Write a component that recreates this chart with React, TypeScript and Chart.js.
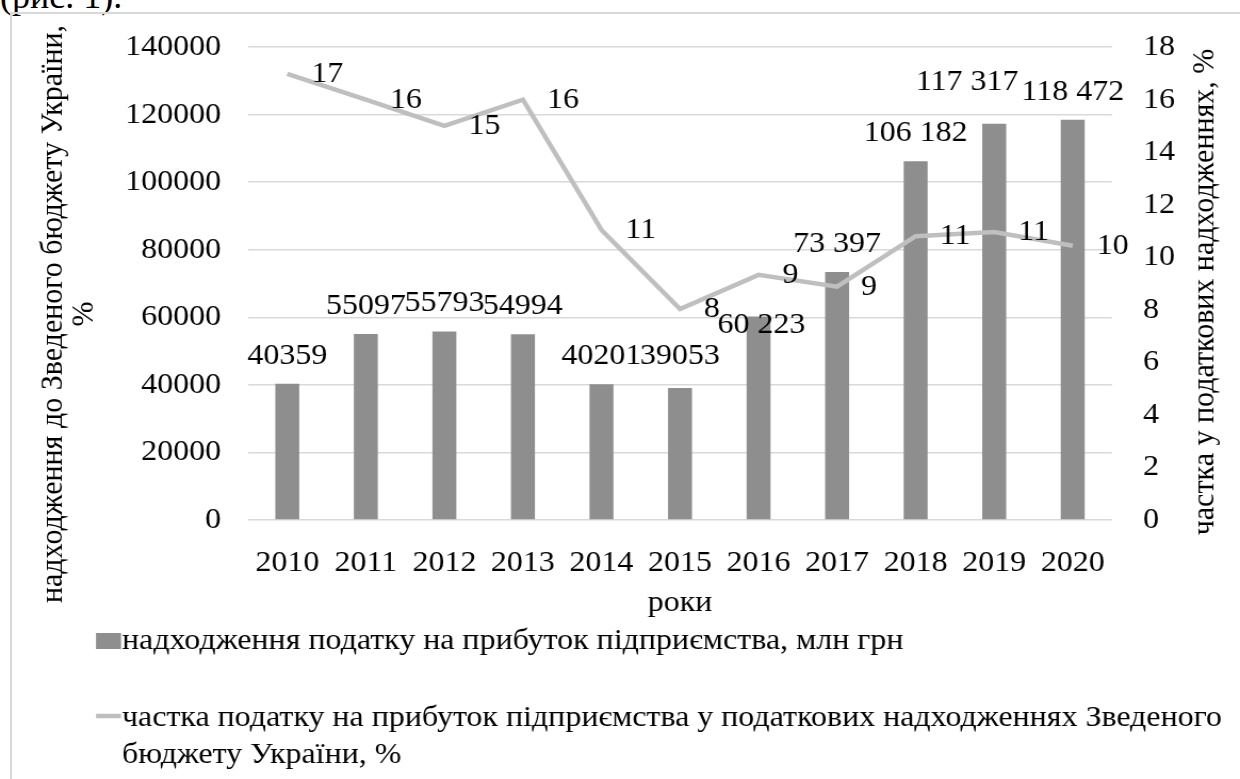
import React, { useEffect, useRef } from 'react';
import { Chart, registerables } from 'chart.js';

Chart.register(...registerables);

// ---------- data ----------
const years = ['2010', '2011', '2012', '2013', '2014', '2015', '2016', '2017', '2018', '2019', '2020'];
const profitTaxRevenue = [40359, 55097, 55793, 54994, 40201, 39053, 60223, 73397, 106182, 117317, 118472];
const profitTaxShare = [16.98, 16.0, 15.0, 16.0, 11.04, 8.03, 9.33, 8.88, 10.8, 10.96, 10.44];
const leftAxisMax = 140000;
const leftAxisStep = 20000;
const rightAxisMax = 18;
const rightAxisStep = 2;
const groupedLabelsFromIndex = 6; // labels from 2016 use a space as thousands separator

const barSeriesName = 'надходження податку на прибуток підприємства, млн грн';
const lineSeriesName = [
  'частка податку на прибуток підприємства у податкових надходженнях Зведеного',
  'бюджету України, %',
];
const leftAxisTitle = ['надходження до Зведеного бюджету України,', '%'];
const rightAxisTitle = 'частка у податкових надходженнях, %';
const xAxisTitle = 'роки';
const pageCaption = '(рис. 1).';

// ---------- styles ----------
const FONT = "'Liberation Serif', 'Times New Roman', serif";
const FONT_SIZE = 30;
const BAR_COLOR = '#8e8e8e';
const LINE_COLOR = '#bfbfbf';
const GRID_COLOR = '#d9d9d9';
const TEXT_COLOR = '#000000';

// The source figure is slightly stretched horizontally; the canvas is drawn
// narrower and widened by CSS to reproduce that.
const PAGE_W = 1240;
const PAGE_H = 779;
const CANVAS_W = 1164;
const SX = PAGE_W / CANVAS_W;
const px = (pageX: number) => pageX / SX;

// manual label nudges (dx, dy in page px) like in the source figure
const barLabelShift: [number, number][] = [
  [0, 0], [0, 0], [0, 0], [0, 0], [0, 0], [0, -4], [3, 37], [0, 0], [0, 0], [-27, -14], [0, 0],
];

const fmtBar = (v: number, i: number) =>
  i >= groupedLabelsFromIndex ? String(v).replace(/\B(?=(\d{3})+(?!\d))/g, ' ') : String(v);

const annotatePlugin = {
  id: 'annotate',
  afterDatasetsDraw(chart: any) {
    const ctx = chart.ctx as CanvasRenderingContext2D;
    ctx.save();
    ctx.fillStyle = TEXT_COLOR;
    ctx.font = `${FONT_SIZE}px ${FONT}`;
    ctx.textBaseline = 'middle';
    const barMeta = chart.getDatasetMeta(0);
    barMeta.data.forEach((el: any, i: number) => {
      const [dx, dy] = barLabelShift[i];
      ctx.textAlign = 'center';
      ctx.fillText(fmtBar(profitTaxRevenue[i], i), el.x + px(dx), el.y - 28 + dy);
    });
    const lineMeta = chart.getDatasetMeta(1);
    lineMeta.data.forEach((el: any, i: number) => {
      ctx.textAlign = 'left';
      ctx.fillText(String(Math.round(profitTaxShare[i])), el.x + px(24), el.y);
    });
    ctx.restore();
  },
  afterDraw(chart: any) {
    const ctx = chart.ctx as CanvasRenderingContext2D;
    const area = chart.chartArea;
    ctx.save();
    ctx.fillStyle = TEXT_COLOR;
    ctx.font = `${FONT_SIZE}px ${FONT}`;
    ctx.textBaseline = 'alphabetic';

    // x axis title
    ctx.textAlign = 'center';
    ctx.fillText(xAxisTitle, (area.left + area.right) / 2, 611);

    // left axis title (two lines, rotated)
    leftAxisTitle.forEach((t, k) => {
      ctx.save();
      ctx.translate(px(62 + k * 31), 314);
      ctx.rotate(-Math.PI / 2);
      ctx.textAlign = 'center';
      ctx.fillText(t, 0, 0);
      ctx.restore();
    });

    // right axis title
    ctx.save();
    ctx.translate(px(1213), 292);
    ctx.rotate(-Math.PI / 2);
    ctx.textAlign = 'center';
    ctx.fillText(rightAxisTitle, 0, 0);
    ctx.restore();

    // legend
    ctx.textAlign = 'left';
    ctx.fillStyle = BAR_COLOR;
    ctx.fillRect(px(96), 633, px(25), 16);
    ctx.fillStyle = TEXT_COLOR;
    ctx.fillText(barSeriesName, px(122), 649);

    ctx.strokeStyle = LINE_COLOR;
    ctx.lineWidth = 4.5;
    ctx.beginPath();
    ctx.moveTo(px(96), 716);
    ctx.lineTo(px(121), 716);
    ctx.stroke();
    lineSeriesName.forEach((t, k) => {
      ctx.fillText(t, px(122), 726 + k * 37);
    });
    ctx.restore();
  },
};

export default function App() {
  const canvasRef = useRef<HTMLCanvasElement | null>(null);

  useEffect(() => {
    if (!canvasRef.current) return;
    const tickFont = { family: FONT, size: FONT_SIZE };
    const chart = new Chart(canvasRef.current, {
      type: 'bar',
      data: {
        labels: years,
        datasets: [
          {
            type: 'bar',
            label: barSeriesName,
            data: profitTaxRevenue,
            backgroundColor: BAR_COLOR,
            borderWidth: 0,
            yAxisID: 'y',
            categoryPercentage: 1,
            barPercentage: 0.305,
            order: 1,
          },
          {
            type: 'line',
            label: lineSeriesName.join(' '),
            data: profitTaxShare,
            borderColor: LINE_COLOR,
            backgroundColor: LINE_COLOR,
            borderWidth: 4.5,
            pointRadius: 0,
            tension: 0,
            yAxisID: 'y1',
            order: 0,
          },
        ],
      },
      options: {
        responsive: false,
        animation: false,
        devicePixelRatio: 1,
        layout: { padding: { top: 42, left: 0, right: 0, bottom: 0 } },
        plugins: {
          legend: { display: false },
          tooltip: { enabled: false },
        },
        scales: {
          x: {
            type: 'category',
            offset: true,
            grid: { display: false },
            border: { display: false },
            ticks: { font: tickFont, color: TEXT_COLOR, padding: 17, maxRotation: 0, autoSkip: false },
            afterFit: (s: any) => {
              s.height = 259;
            },
          },
          y: {
            position: 'left',
            min: 0,
            max: leftAxisMax,
            grid: { color: GRID_COLOR, lineWidth: 1.5, drawTicks: false },
            border: { display: false },
            ticks: {
              stepSize: leftAxisStep,
              font: tickFont,
              color: TEXT_COLOR,
              padding: px(27),
              callback: (v: any) => String(v),
            },
            afterFit: (s: any) => {
              s.width = px(248);
            },
          },
          y1: {
            position: 'right',
            min: 0,
            max: rightAxisMax,
            grid: { display: false, drawTicks: false },
            border: { display: false },
            ticks: {
              stepSize: rightAxisStep,
              font: tickFont,
              color: TEXT_COLOR,
              padding: px(31),
              callback: (v: any) => String(v),
            },
            afterFit: (s: any) => {
              s.width = px(PAGE_W - 1112);
            },
          },
        },
      },
      plugins: [annotatePlugin],
    });
    return () => chart.destroy();
  }, []);

  return (
    <div
      style={{
        position: 'fixed',
        left: 0,
        top: 0,
        width: PAGE_W,
        height: PAGE_H,
        overflow: 'hidden',
        background: '#ffffff',
      }}
    >
      <div
        style={{
          position: 'absolute',
          left: 0,
          top: -22,
          font: `36px ${FONT}`,
          lineHeight: '36px',
          color: TEXT_COLOR,
          whiteSpace: 'nowrap',
        }}
      >
        {pageCaption}
      </div>
      <div
        style={{
          position: 'absolute',
          left: 10,
          top: 12,
          width: 1300,
          height: 900,
          border: `2px solid ${GRID_COLOR}`,
        }}
      />
      <canvas
        ref={canvasRef}
        width={CANVAS_W}
        height={PAGE_H}
        style={{ position: 'absolute', left: 0, top: 0, width: PAGE_W, height: PAGE_H, display: 'block' }}
      />
    </div>
  );
}
